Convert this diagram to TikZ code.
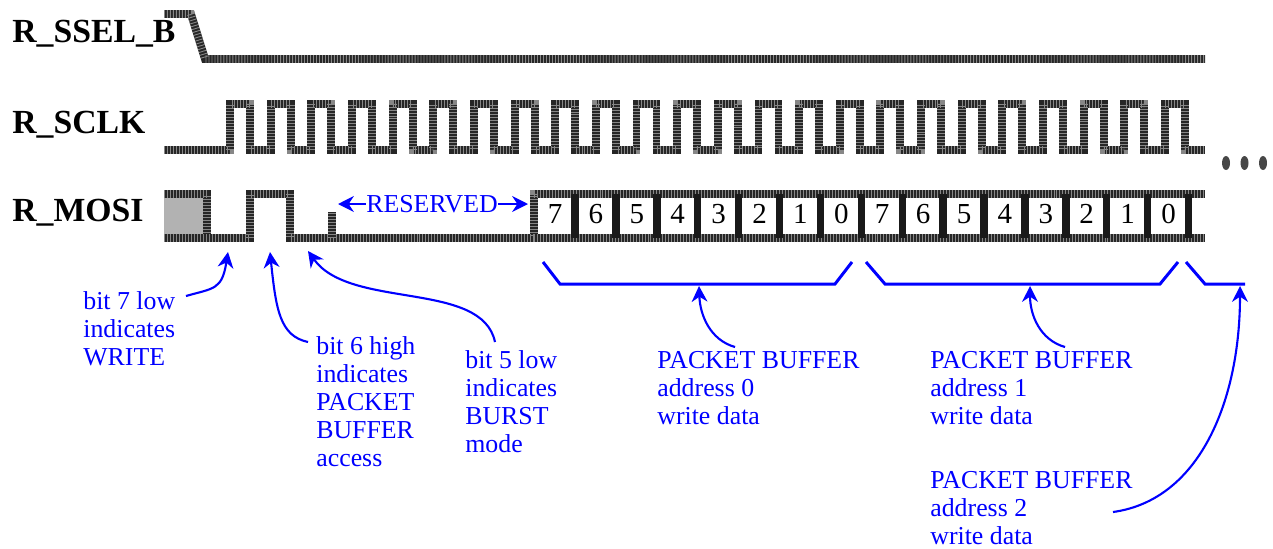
\documentclass[tikz,border=0pt]{standalone}
\usepackage{fontspec}
\usetikzlibrary{arrows.meta}
\setmainfont{Liberation Serif}
\definecolor{noteblue}{RGB}{0,0,255}
\begin{document}
\begin{tikzpicture}[x=0.02cm, y=-0.02cm, >=stealth,
    trace/.style={line width=4.5pt, black!85, postaction={draw, white, opacity=0.45, line width=4.5pt, dash pattern=on 0.5pt off 1.2pt}},
    sepline/.style={line width=4.2pt, black!90},
    signame/.style={anchor=west, inner sep=0pt, font=\fontsize{19.2}{20}\selectfont\bfseries},
    bitnum/.style={inner sep=0pt, font=\fontsize{16.5}{18}\selectfont},
    note/.style={anchor=north west, inner sep=0pt, align=left, text=noteblue, font=\fontsize{14.7}{15.9}\selectfont},
    brace/.style={noteblue, line width=1.7pt},
    pointer/.style={noteblue, line width=1.2pt, ->, >={Stealth[length=9pt, width=9pt]}}]
  \useasboundingbox (0,0) rectangle (1273,548);

  % 信号名
  \node[signame] (ssel) at (12,34) {R\_SSEL\_B};
  \node[signame] (sclk) at (12,125) {R\_SCLK};
  \node[signame] (mosi) at (12,213) {R\_MOSI};

  % R_SSEL_B の波形
  \draw[trace] (164,14) -- (191,14) -- (205,59) -- (1205,59);

  % R_SCLK の波形 (24 パルス)
  \draw[trace] (164,150) foreach \i in {0,...,23} {
    -- ({230+40.65*\i},150) -- ({230+40.65*\i},104) -- ({250+40.65*\i},104) -- ({250+40.65*\i},150)
  } -- (1205,150);

  % 続きを示す点
  \foreach \i in {0,1,2} {
    \fill[black!72] ({1226+18.5*\i},163) ellipse (4 and 7);
  }

  % R_MOSI の先頭部分
  \fill[black!30] (164,194) rectangle (207,238);
  \draw[trace] (164,194) -- (207,194) -- (207,238);
  \draw[trace] (164,238) -- (250,238) -- (250,194) -- (290,194) -- (290,238) -- (534,238) -- (534,194) -- (1205,194);
  \draw[trace] (332,238) -- (332,212);
  \draw[trace] (534,238) -- (1205,238);

  % データビット
  \foreach \b [count=\i from 0] in {7,6,5,4,3,2,1,0,7,6,5,4,3,2,1,0} {
    \node[bitnum] (bit\i) at ({555+40.9*\i},214) {\b};
    \draw[sepline] ({575+40.9*\i},194) -- ({575+40.9*\i},238);
  }

  % RESERVED の矢印
  \node[note, anchor=center] (reserved) at (432,204) {RESERVED};
  \coordinate (resleft) at (338,204);
  \coordinate (resright) at (528,204);
  \draw[pointer] (reserved.west) -- (resleft);
  \draw[pointer] (reserved.east) -- (resright);

  % 下側の括弧
  \draw[brace] (543,262) -- (560,284) -- (835,284) -- (852,262);
  \draw[brace] (866,262) -- (885,284) -- (1160,284) -- (1178,262);
  \draw[brace] (1186,262) -- (1205,284) -- (1245,284);

  % 注釈
  \node[note] (bitseven) at (83,291) {bit 7 low\\indicates\\WRITE};
  \node[note] (bitsix) at (316,336) {bit 6 high\\indicates\\PACKET\\BUFFER\\access};
  \node[note] (bitfive) at (465,350) {bit 5 low\\indicates\\BURST\\mode};
  \node[note] (addrzero) at (657,351) {PACKET BUFFER\\address 0\\write data};
  \node[note] (addrone) at (930,351) {PACKET BUFFER\\address 1\\write data};
  \node[note] (addrtwo) at (930,471) {PACKET BUFFER\\address 2\\write data};

  % 注釈からの矢印
  \coordinate (lowseven) at (228,252);
  \coordinate (highsix) at (270,252);
  \coordinate (lowfive) at (308,251);
  \coordinate (buszero) at (699,286);
  \coordinate (busone) at (1030,286);
  \coordinate (bustwo) at (1240,286);
  \draw[pointer] (186,296) .. controls (214,288) and (222,290) .. (lowseven);
  \draw[pointer] (308,342) .. controls (280,336) and (276,310) .. (highsix);
  \draw[pointer] (495,342) .. controls (482,280) and (350,310) .. (lowfive);
  \draw[pointer] (735,347) .. controls (710,340) and (700,315) .. (buszero);
  \draw[pointer] (1065,347) .. controls (1040,340) and (1030,315) .. (busone);
  \draw[pointer] (1113,512) .. controls (1200,500) and (1240,400) .. (bustwo);

\end{tikzpicture}
\end{document}
